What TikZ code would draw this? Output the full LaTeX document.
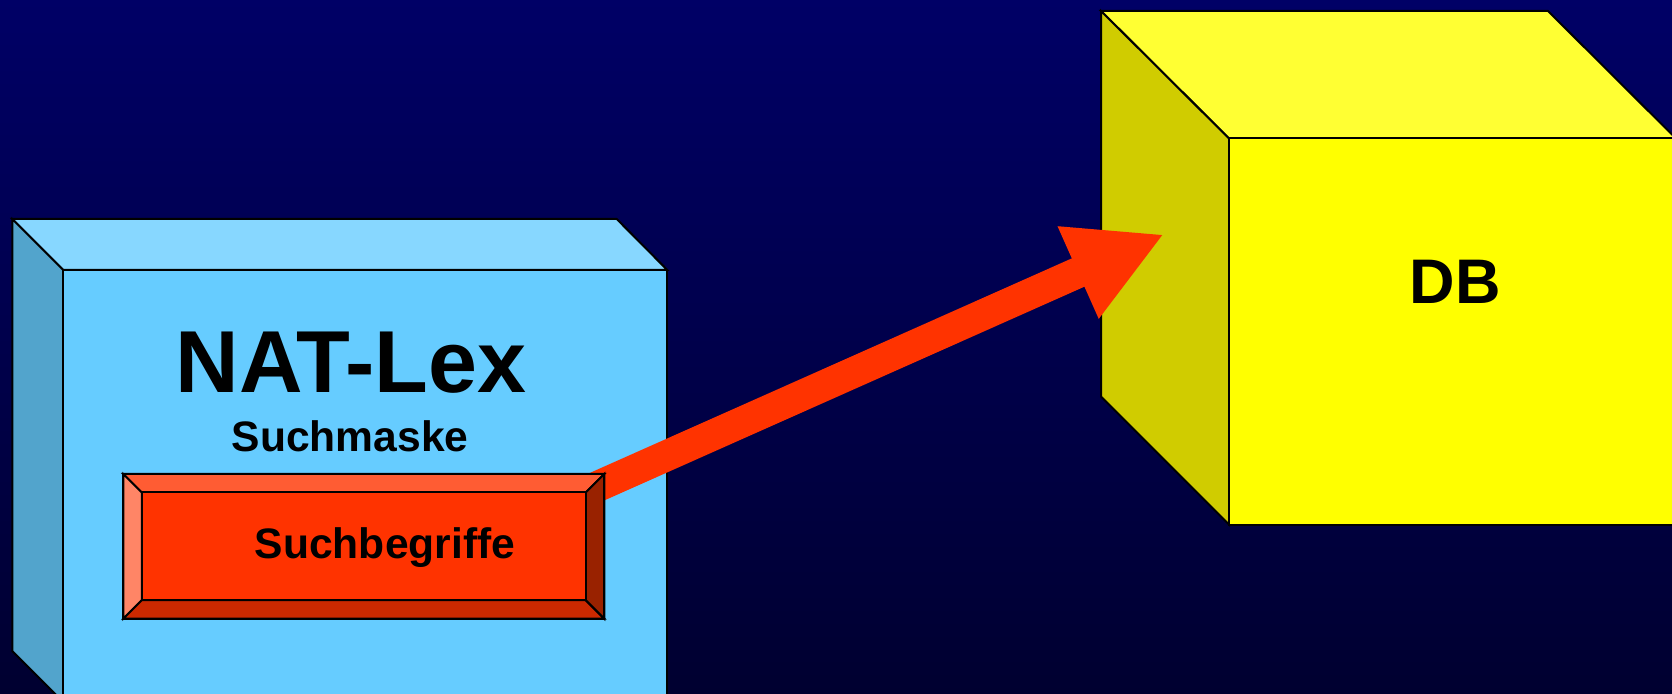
\documentclass[tikz,border=0pt]{standalone}
\usepackage{fontspec}
\setmainfont{Liberation Sans}
\usetikzlibrary{arrows.meta}
\definecolor{bgtop}{RGB}{0,0,102}
\definecolor{bgbot}{RGB}{0,0,48}
\definecolor{lbtop}{RGB}{135,215,255}
\definecolor{lbfront}{RGB}{102,204,255}
\definecolor{lbleft}{RGB}{82,164,204}
\definecolor{dbtop}{RGB}{255,255,51}
\definecolor{dbfront}{RGB}{255,255,0}
\definecolor{dbleft}{RGB}{208,204,0}
\definecolor{arrowred}{RGB}{255,51,0}
\definecolor{bvtop}{RGB}{255,92,51}
\definecolor{bvleft}{RGB}{255,133,102}
\definecolor{bvbot}{RGB}{204,41,0}
\definecolor{bvright}{RGB}{153,34,0}
\begin{document}
\begin{tikzpicture}[x=0.5pt,y=-0.5pt,line join=miter,
  face/.style={draw=black,line width=1pt},
  lbl/.style={anchor=base,inner sep=0pt,outer sep=0pt,font=\bfseries}]
\useasboundingbox (0,0) rectangle (1672,694);
\shade[top color=bgtop,bottom color=bgbot] (0,0) rectangle (1672,694);
% NAT-Lex box
\filldraw[face,fill=lbtop] (12.3,219) -- (616.7,219) -- (667.3,270) -- (63.3,270) -- cycle;
\filldraw[face,fill=lbleft] (12.3,219) -- (63.3,270) -- (63.3,702) -- (12.3,651) -- cycle;
\filldraw[face,fill=lbfront] (63.3,270) rectangle (667.3,702);
\node[lbl,font=\bfseries\fontsize{44}{52}\selectfont] (natlex) at (351,392.5) {NAT-Lex};
\node[lbl,font=\bfseries\fontsize{21.3}{26}\selectfont] (maske) at (350,451.7) {Suchmaske};
% DB cube
\filldraw[face,fill=dbtop] (1101,11) -- (1548,11) -- (1676,138.5) -- (1229,138.5) -- cycle;
\filldraw[face,fill=dbleft] (1101,11) -- (1229,138.5) -- (1229,524.6) -- (1101,396.6) -- cycle;
\filldraw[face,fill=dbfront] (1229,138.5) rectangle (1680,524.6);
\node[lbl,font=\bfseries\fontsize{31.5}{38}\selectfont] (db) at (1455,304) {DB};
% arrow
\coordinate (astart) at (500,529.9);
\coordinate (atip) at (1164,234.3);
\draw[arrowred,line width=15.5pt,-{Triangle[length=47pt,width=47pt]}] (astart) -- (atip);
% button
\node[draw=none,fill=none,minimum width=240.5pt,minimum height=72.35pt,inner sep=0pt,outer sep=0pt] (btn) at (363.8,546.35) {};
\path (btn.north west) ++(18.5,18.5) coordinate (i1);
\path (btn.north east) ++(-18.5,18.5) coordinate (i2);
\path (btn.south east) ++(-18.5,-18.5) coordinate (i3);
\path (btn.south west) ++(18.5,-18.5) coordinate (i4);
\filldraw[face,fill=bvtop] (btn.north west) -- (btn.north east) -- (i2) -- (i1) -- cycle;
\filldraw[face,fill=bvleft] (btn.north west) -- (i1) -- (i4) -- (btn.south west) -- cycle;
\filldraw[face,fill=bvbot] (btn.south west) -- (i4) -- (i3) -- (btn.south east) -- cycle;
\filldraw[face,fill=bvright] (btn.north east) -- (btn.south east) -- (i3) -- (i2) -- cycle;
\filldraw[face,fill=arrowred] (i1) rectangle (i3);
\draw[face] (btn.north west) rectangle (btn.south east);
\node[lbl,font=\bfseries\fontsize{21.3}{26}\selectfont] (sbeg) at (385,558.3) {Suchbegriffe};
\end{tikzpicture}
\end{document}
